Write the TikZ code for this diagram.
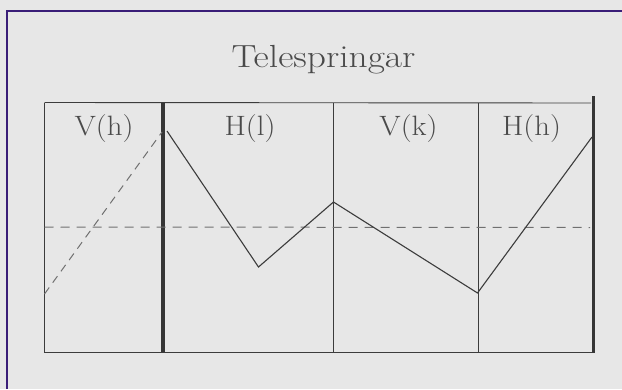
\documentclass[tikz,border=0pt]{standalone}
\usetikzlibrary{calc}
\definecolor{bgc}{HTML}{E7E7E7}
\definecolor{framec}{HTML}{3A1E78}
\definecolor{inkc}{HTML}{3C3C3C}
\definecolor{textc}{HTML}{4A4A4A}
\definecolor{dashc}{HTML}{707070}
\tikzset{
  thinline/.style={draw=inkc, line width=0.9pt},
  thickline/.style={draw=inkc!90!black, line width=3.2pt},
  graphline/.style={draw=inkc, line width=1.1pt, line join=miter},
  guide/.style={draw=dashc, line width=1pt, dash pattern=on 9pt off 7pt},
  lbl/.style={text=textc, font=\fontsize{28}{30}\selectfont, inner sep=0pt},
  ttl/.style={text=textc, font=\fontsize{32}{34}\selectfont, inner sep=0pt}
}
\begin{document}
\begin{tikzpicture}[x=1pt,y=-1pt]
\useasboundingbox (0,0) rectangle (622,389);
\clip (0,0) rectangle (622,389);
\fill[bgc] (0,0) rectangle (622,389);
\coordinate (fb) at (6.7,389);
\coordinate (fc) at (6.7,11);
\coordinate (fr) at (622,11);
\draw[framec, line width=2pt] (fb) -- (fc) -- (fr);
% box corners
\coordinate (tl) at (44.5,102.5);
\coordinate (bl) at (44.5,352);
\coordinate (tr) at (591,103);
\coordinate (br) at (593,352);
\coordinate (d1t) at (163,102.5);
\coordinate (d1b) at (163,352);
\coordinate (d2t) at (333,102.5);
\coordinate (d2b) at (333,352);
\coordinate (d3t) at (478,103);
\coordinate (d3b) at (478,352);
\coordinate (rt) at (593.5,96);
\coordinate (rb) at (593.5,353);
% outline
\draw[thinline] (tl) -- (tr);
\draw[thinline] (tl) -- (bl) -- (br);
\draw[thinline] (d2t) -- (d2b);
\draw[thinline] (d3t) -- (d3b);
\draw[thickline] (d1t) -- (d1b);
\draw[thickline] (rt) -- (rb);
% dashed guides
\coordinate (hl) at (44.5,227);
\coordinate (hr) at (590,227.5);
\draw[guide] (hl) -- (hr);
\coordinate (ds) at (44.5,294);
\coordinate (de) at (162,132);
\draw[guide, dash pattern=on 8pt off 6pt] (ds) -- (de);
% graph
\coordinate (p1) at (167,131);
\coordinate (p2) at (258.5,267);
\coordinate (p3) at (333.5,202);
\coordinate (p4) at (477.5,293);
\coordinate (p5) at (592,137);
\draw[graphline] (p1) -- (p2) -- (p3) -- (p4) -- (p5);
% text
\node[ttl] (title) at (323.5,60) {\scalebox{1.17}[1]{Telespringar}};
\node[lbl] (vh) at (104,129) {\scalebox{1.1}[1]{V(h)}};
\node[lbl] (hl1) at (250,129) {\scalebox{1.1}[1]{H(l)}};
\node[lbl] (vk) at (408.5,129) {\scalebox{1.1}[1]{V(k)}};
\node[lbl] (hh) at (531.5,129) {\scalebox{1.1}[1]{H(h)}};
\end{tikzpicture}
\end{document}
